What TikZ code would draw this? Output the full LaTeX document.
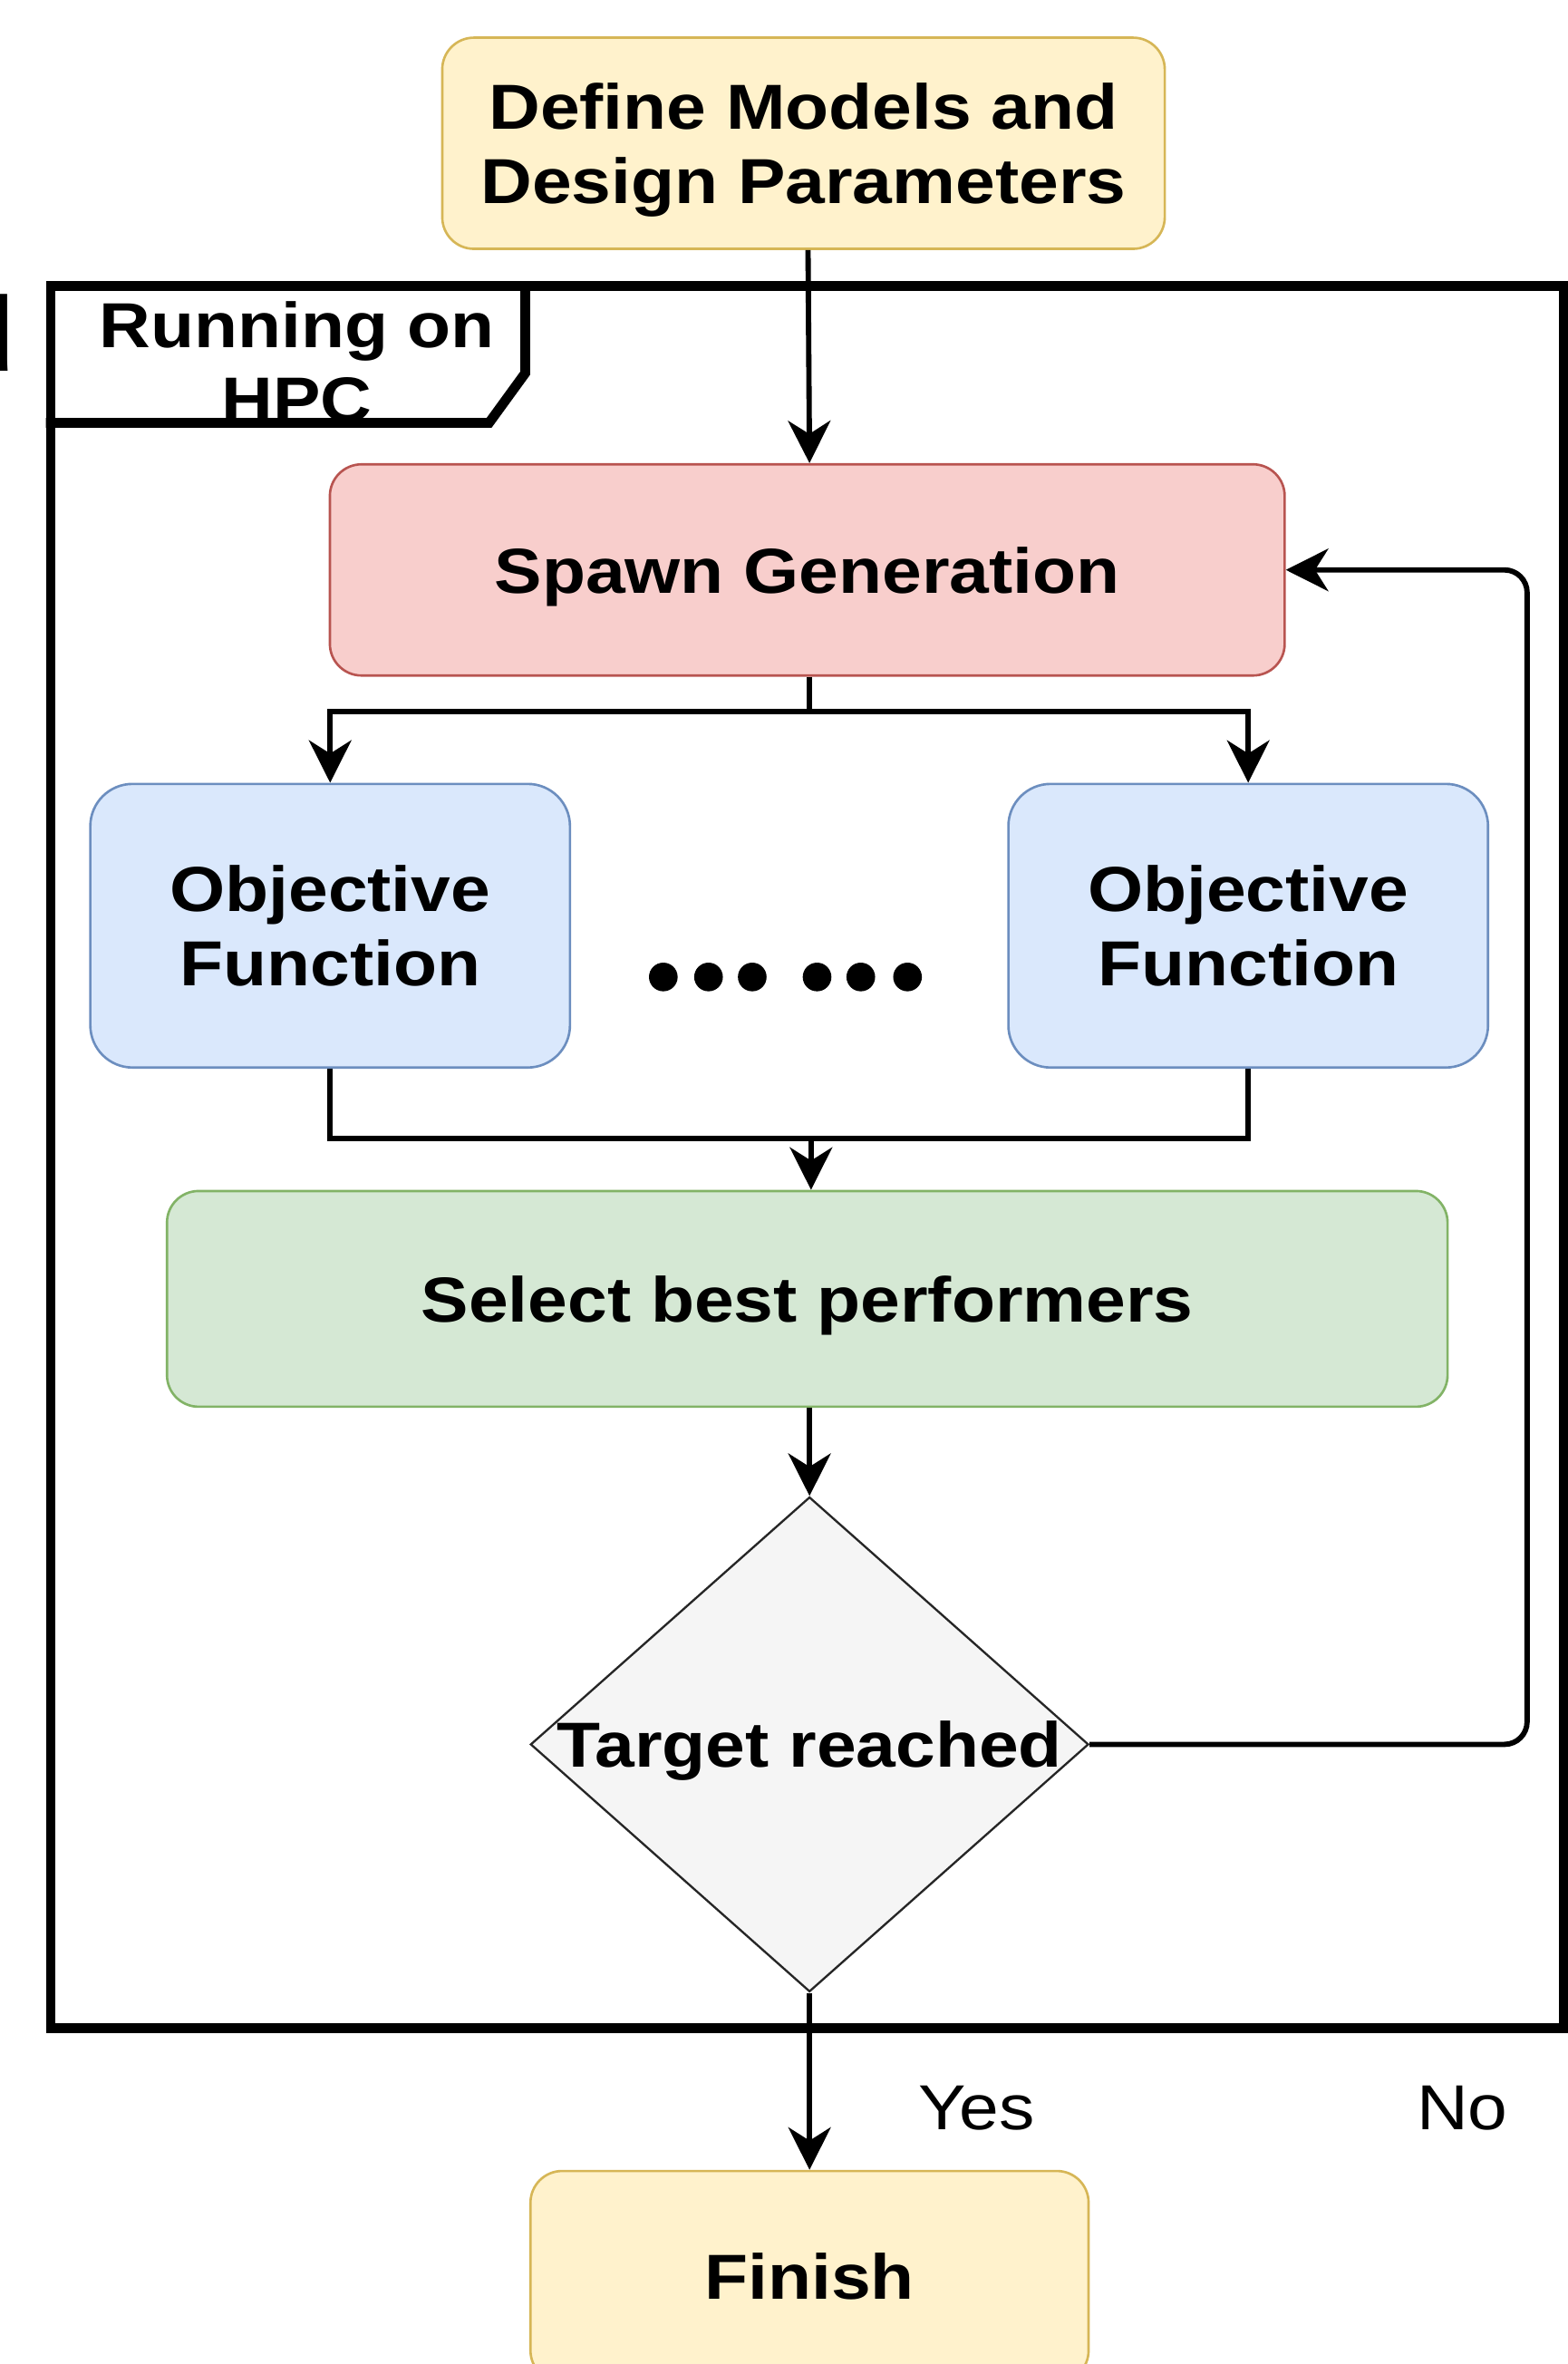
\documentclass[tikz,border=0pt]{standalone}
\usepackage{fontspec}
\setmainfont{Liberation Sans}[FakeStretch=1.12]
\usetikzlibrary{arrows.meta,shapes.geometric,positioning}
\definecolor{startfill}{HTML}{FFF2CC}
\definecolor{startline}{HTML}{D6B656}
\definecolor{spawnfill}{HTML}{F8CECC}
\definecolor{spawnline}{HTML}{B85450}
\definecolor{objfill}{HTML}{DAE8FC}
\definecolor{objline}{HTML}{6C8EBF}
\definecolor{selfill}{HTML}{D5E8D4}
\definecolor{selline}{HTML}{82B366}
\definecolor{decfill}{HTML}{F5F5F5}

\begin{document}
\begin{tikzpicture}[x=0.01cm, y=-0.01cm,
    every node/.style={font=\fontsize{12}{14}\selectfont\bfseries, align=center, inner sep=0pt},
    box/.style={draw, line width=0.45pt, rounded corners=0.21cm},
    startbox/.style={box, fill=startfill, draw=startline, text depth=0pt},
    spawnbox/.style={box, fill=spawnfill, draw=spawnline, text depth=0pt},
    objbox/.style={box, fill=objfill, draw=objline, rounded corners=0.28cm,
      minimum width=3.18cm, minimum height=1.88cm},
    selbox/.style={box, fill=selfill, draw=selline, text depth=0pt},
    decision/.style={diamond, draw=black!85, line width=0.4pt, fill=decfill},
    frame/.style={draw, line width=1.85pt},
    line/.style={draw, line width=1pt},
    conn/.style={line, -{Stealth[length=8pt, width=8pt, inset=2.5pt]}},
    plain/.style={font=\fontsize{12}{14}\selectfont}]
  \useasboundingbox (0,0) rectangle (1040,1568);

  % HPC frame and its tab
  \node[frame, minimum width=10.03cm, minimum height=11.55cm] (hpc) at (535.5,767.5) {};
  \draw[frame] (hpc.north west) ++(318,0) -- ++(0,61) -- ++(-24,33) -- ++(-294,0);
  \node (hpclabel) at (197,240) {Running on\\HPC};
  \node[font=\fontsize{20}{24}\selectfont\bfseries, anchor=base east] (cut) at (11,246) {d};

  % boxes
  \node[startbox, minimum width=4.79cm, minimum height=1.4cm] (define) at (533,95)
    {Define Models and\\Design Parameters};
  \node[spawnbox, minimum width=6.33cm, minimum height=1.4cm] (spawn) at (535.5,378)
    {Spawn Generation};
  \node[objbox] (objL) at (219,614) {Objective\\Function};
  \node[objbox] (objR) at (828,614) {Objective\\Function};
  \node[selbox, minimum width=8.49cm, minimum height=1.43cm] (select) at (535.5,861.5)
    {Select best performers};
  \node[decision, minimum width=3.7cm, minimum height=3.28cm] (target) at (537,1157) {};
  \node[text depth=0pt] (targettxt) at (target.center) {Target reached};
  \node[startbox, minimum width=3.7cm, minimum height=1.4cm] (finish) at (537,1510) {Finish};

  % dots between the objective functions
  \foreach \dx in {440,470,499,542,571,602}
    \fill (\dx,648) circle[radius=0.095cm];

  \coordinate (split) at (537,472);
  \coordinate (merge) at (538,755);
  \coordinate (loop) at (1013,1157);

  % connectors
  \draw[conn] (define.south -| 536,0) -- (spawn.north -| 537,0);
  \draw[line] (spawn.south -| split) -- (split);
  \draw[conn] (split) -| (objL.north);
  \draw[conn] (split) -| (objR.north);
  \draw[line] (objL.south) |- (merge);
  \draw[line] (objR.south) |- (merge);
  \draw[conn] (merge) -- (select.north -| merge);
  \draw[conn] (select.south -| target) -- (target.north);
  \draw[conn, rounded corners=0.15cm] (target.east) -- (loop) |- (spawn.east);
  \draw[conn] (target.south) -- (finish.north);

  \node[plain] (yes) at (648,1398) {Yes};
  \node[plain] (no) at (970,1398) {No};
\end{tikzpicture}
\end{document}
